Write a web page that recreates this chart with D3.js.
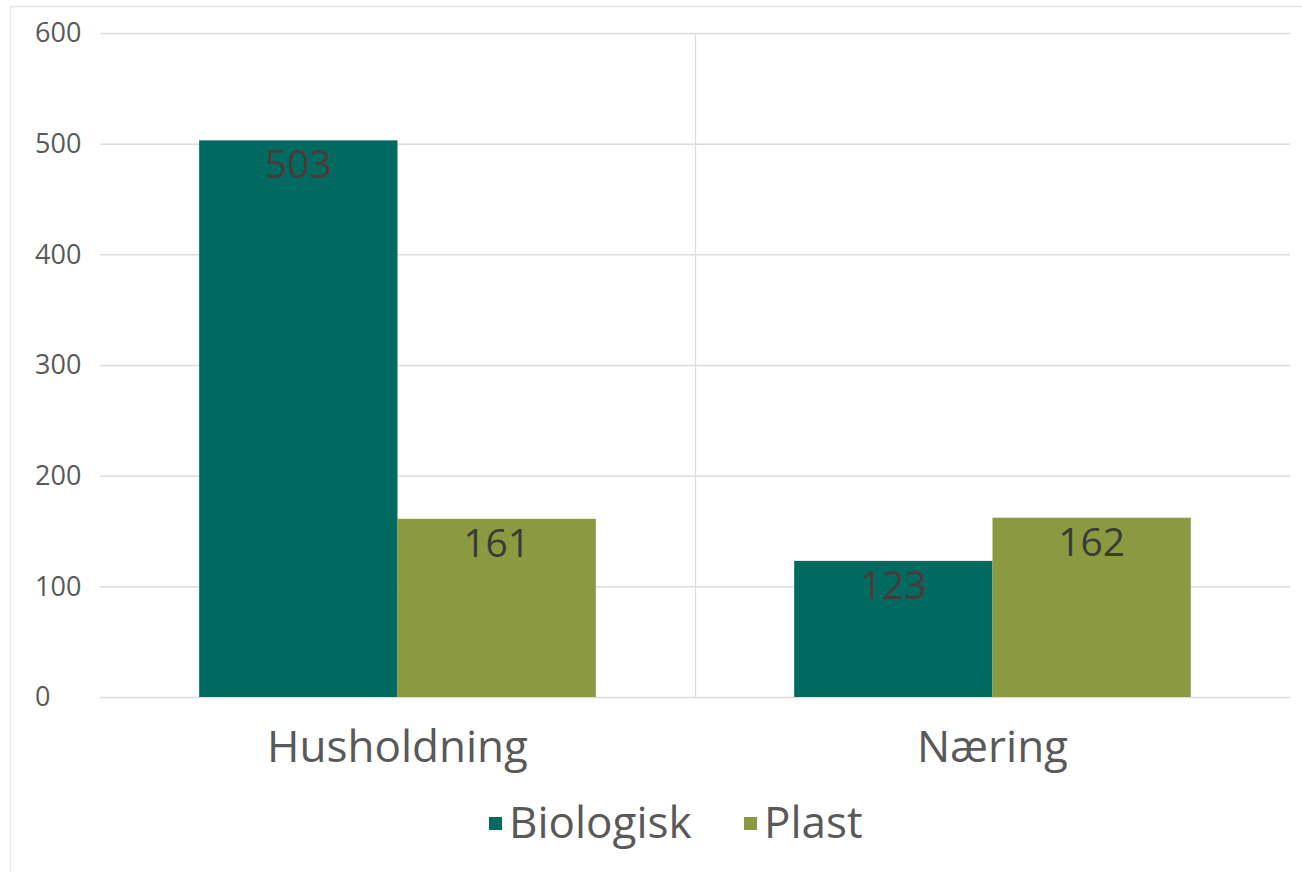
<!DOCTYPE html>
<html>
<head>
<meta charset="utf-8">
<script src="https://cdn.jsdelivr.net/npm/d3@7"></script>
<style>
  body { margin: 0; background: #fff; }
  svg { font-family: "Open Sans", "DejaVu Sans", sans-serif; }
</style>
</head>
<body>
<div id="chart"></div>
<script>
const categories = ["Husholdning", "Næring"];
const seriesNames = ["Biologisk", "Plast"];
const biologisk = [503, 123];
const plast = [161, 162];
const yTicks = [0, 100, 200, 300, 400, 500, 600];

const colors = { "Biologisk": "#006a60", "Plast": "#8b9a40" };
const labelColors = { "Biologisk": "#4b3a3d", "Plast": "#3a3a3a" };

const width = 1302;
const height = 872;
const plot = { left: 100, right: 1290, top: 33, bottom: 697 };

const data = categories.map((c, i) => ({
    category: c,
    values: [
        { series: "Biologisk", value: biologisk[i] },
        { series: "Plast", value: plast[i] }
    ]
}));

const svg = d3.select("#chart")
    .append("svg")
    .attr("width", width)
    .attr("height", height);

// chart frame
svg.append("rect")
    .attr("x", 10.5)
    .attr("y", 6.5)
    .attr("width", 1300)
    .attr("height", 900)
    .attr("fill", "none")
    .attr("stroke", "#e6e6e6")
    .attr("stroke-width", 1.5);

const x0 = d3.scaleBand()
    .domain(categories)
    .range([plot.left, plot.right])
    .padding(0);

const x1 = d3.scaleBand()
    .domain(seriesNames)
    .range([x0.bandwidth() / 6, x0.bandwidth() * 5 / 6])
    .padding(0);

const y = d3.scaleLinear()
    .domain([0, 600])
    .range([plot.bottom, plot.top]);

// gridlines
svg.append("g")
    .attr("class", "grid")
    .attr("transform", `translate(${plot.left},0)`)
    .call(d3.axisLeft(y).tickValues(yTicks).tickSize(-(plot.right - plot.left)).tickFormat(""))
    .call(g => g.select(".domain").remove())
    .selectAll("line")
    .attr("stroke", "#dcdcdc")
    .attr("stroke-width", 1.5);

// category separator
svg.append("line")
    .attr("x1", x0("Næring") + 0.5)
    .attr("x2", x0("Næring") + 0.5)
    .attr("y1", plot.top)
    .attr("y2", plot.bottom)
    .attr("stroke", "#dcdcdc")
    .attr("stroke-width", 1.2);

// y tick labels (left aligned as in the original)
svg.append("g")
    .selectAll("text")
    .data(yTicks)
    .enter()
    .append("text")
    .attr("x", 35)
    .attr("y", d => y(d))
    .attr("dy", "0.35em")
    .attr("font-size", "27px")
    .attr("fill", "#595959")
    .text(d => d);

const groups = svg.selectAll(".group")
    .data(data)
    .enter()
    .append("g")
    .attr("class", "group")
    .attr("transform", d => `translate(${x0(d.category)},0)`);

groups.selectAll("rect")
    .data(d => d.values)
    .enter()
    .append("rect")
    .attr("x", d => x1(d.series))
    .attr("y", d => y(d.value))
    .attr("width", x1.bandwidth())
    .attr("height", d => y(0) - y(d.value))
    .attr("fill", d => colors[d.series]);

groups.selectAll(".label")
    .data(d => d.values)
    .enter()
    .append("text")
    .attr("class", "label")
    .attr("x", d => x1(d.series) + x1.bandwidth() / 2)
    .attr("y", d => y(d.value) + 38)
    .attr("text-anchor", "middle")
    .attr("font-size", "39px")
    .attr("fill", d => labelColors[d.series])
    .text(d => d.value);

// x axis labels
svg.append("g")
    .selectAll("text")
    .data(categories)
    .enter()
    .append("text")
    .attr("x", d => x0(d) + x0.bandwidth() / 2)
    .attr("y", 762)
    .attr("text-anchor", "middle")
    .attr("font-size", "44px")
    .attr("fill", "#595959")
    .text(d => d);

// legend
const legendItems = [
    { name: "Biologisk", sx: 489, tx: 509 },
    { name: "Plast", sx: 744, tx: 764 }
];
const legend = svg.append("g");
legend.selectAll("rect")
    .data(legendItems)
    .enter()
    .append("rect")
    .attr("x", d => d.sx)
    .attr("y", 817)
    .attr("width", 13)
    .attr("height", 13)
    .attr("fill", d => colors[d.name]);
legend.selectAll("text")
    .data(legendItems)
    .enter()
    .append("text")
    .attr("x", d => d.tx)
    .attr("y", 838)
    .attr("font-size", "44px")
    .attr("fill", "#595959")
    .text(d => d.name);
</script>
</body>
</html>
